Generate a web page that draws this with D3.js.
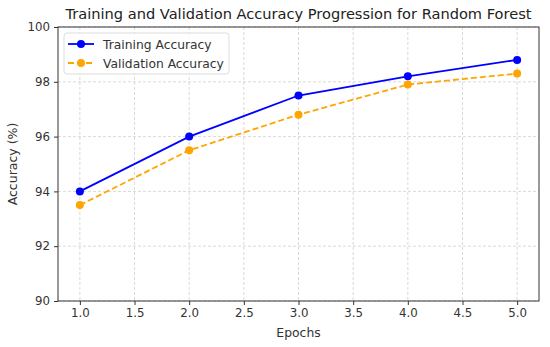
<!DOCTYPE html>
<html>
<head>
<meta charset="utf-8">
<script src="https://cdn.jsdelivr.net/npm/d3@7"></script>
<style>
  body { margin: 0; background: #fff; }
  svg { font-family: "DejaVu Sans", sans-serif; }
</style>
</head>
<body>
<svg></svg>
<script>
var epochs = [1, 2, 3, 4, 5]
var trainAcc = [94.0, 96.0, 97.5, 98.2, 98.8]
var valAcc = [93.5, 95.5, 96.8, 97.9, 98.3]
var xTicks = [1.0, 1.5, 2.0, 2.5, 3.0, 3.5, 4.0, 4.5, 5.0]
var yTicks = [90, 92, 94, 96, 98, 100]

var width = 550, height = 347
var m = {top: 27, right: 11, bottom: 46, left: 58}

var svg = d3.select("svg")
    .attr("width", width)
    .attr("height", height)

var x = d3.scaleLinear().domain([0.8, 5.2]).range([m.left, width - m.right])
var y = d3.scaleLinear().domain([90, 100]).range([height - m.bottom, m.top])

// griglia tratteggiata
svg.append("g").selectAll("line.gx").data(xTicks).join("line")
    .attr("x1", d => x(d)).attr("x2", d => x(d))
    .attr("y1", m.top).attr("y2", height - m.bottom)
    .attr("stroke", "#cfcfcf").attr("stroke-width", 0.8).attr("stroke-dasharray", "3,2")
svg.append("g").selectAll("line.gy").data(yTicks).join("line")
    .attr("x1", m.left).attr("x2", width - m.right)
    .attr("y1", d => y(d)).attr("y2", d => y(d))
    .attr("stroke", "#cfcfcf").attr("stroke-width", 0.8).attr("stroke-dasharray", "3,2")

// assi
var xAxis = svg.append("g")
    .attr("transform", "translate(0," + (height - m.bottom) + ")")
    .call(d3.axisBottom(x).tickValues(xTicks).tickFormat(d3.format(".1f")).tickSizeOuter(0).tickSize(4).tickPadding(4))
var yAxis = svg.append("g")
    .attr("transform", "translate(" + m.left + ",0)")
    .call(d3.axisLeft(y).tickValues(yTicks).tickSizeOuter(0).tickSize(4).tickPadding(4))
;[xAxis, yAxis].forEach(function (a) {
    a.selectAll("text").attr("font-size", 11.8).attr("fill", "#333").attr("font-family", "DejaVu Sans")
    a.selectAll("line").attr("stroke", "#333")
    a.select(".domain").remove()
})

// cornice
svg.append("rect")
    .attr("x", m.left).attr("y", m.top)
    .attr("width", width - m.left - m.right).attr("height", height - m.top - m.bottom)
    .attr("fill", "none").attr("stroke", "#333").attr("stroke-width", 1)

// linee
var line = d3.line().x((d, i) => x(epochs[i])).y(d => y(d))

svg.append("path").datum(trainAcc)
    .attr("d", line).attr("fill", "none").attr("stroke", "blue").attr("stroke-width", 1.8)
svg.append("g").selectAll("circle").data(trainAcc).join("circle")
    .attr("cx", (d, i) => x(epochs[i])).attr("cy", d => y(d)).attr("r", 4).attr("fill", "blue")

svg.append("path").datum(valAcc)
    .attr("d", line).attr("fill", "none").attr("stroke", "orange").attr("stroke-width", 1.8)
    .attr("stroke-dasharray", "6,3")
svg.append("g").selectAll("circle").data(valAcc).join("circle")
    .attr("cx", (d, i) => x(epochs[i])).attr("cy", d => y(d)).attr("r", 4).attr("fill", "orange")

// titolo ed etichette
svg.append("text")
    .attr("x", (m.left + width - m.right) / 2).attr("y", 19)
    .attr("text-anchor", "middle").attr("font-size", 14.6).attr("fill", "#222")
    .text("Training and Validation Accuracy Progression for Random Forest")
svg.append("text")
    .attr("x", (m.left + width - m.right) / 2).attr("y", 337)
    .attr("text-anchor", "middle").attr("font-size", 12.4).attr("fill", "#333")
    .text("Epochs")
svg.append("text")
    .attr("transform", "translate(17," + ((m.top + height - m.bottom) / 2) + ") rotate(-90)")
    .attr("text-anchor", "middle").attr("font-size", 12.5).attr("fill", "#333")
    .text("Accuracy (%)")

// legenda
var leg = svg.append("g").attr("transform", "translate(64,33)")
leg.append("rect")
    .attr("width", 165).attr("height", 41).attr("rx", 3)
    .attr("fill", "white").attr("fill-opacity", 0.8).attr("stroke", "#ddd")
var items = [
    {label: "Training Accuracy", color: "blue", dash: null},
    {label: "Validation Accuracy", color: "orange", dash: "6,3"}
]
items.forEach(function (it, i) {
    var yy = 11 + i * 19
    leg.append("line")
        .attr("x1", 4).attr("x2", 30).attr("y1", yy).attr("y2", yy)
        .attr("stroke", it.color).attr("stroke-width", 1.8).attr("stroke-dasharray", it.dash)
    leg.append("circle").attr("cx", 17).attr("cy", yy).attr("r", 4).attr("fill", it.color)
    leg.append("text").attr("x", 39).attr("y", yy + 4.5)
        .attr("font-size", 12.3).attr("fill", "#333").text(it.label)
})
</script>
</body>
</html>
